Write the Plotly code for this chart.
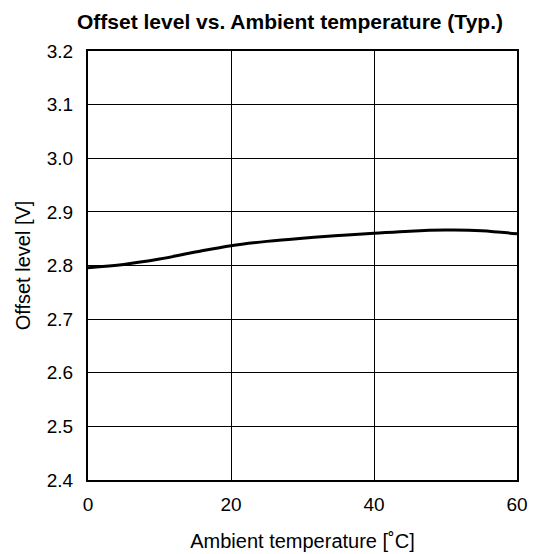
import plotly.graph_objects as go

temperature = [0, 5, 10, 15, 20, 25, 30, 35, 40, 45, 50, 55, 60]
offset_level = [2.796, 2.802, 2.812, 2.825, 2.837, 2.845, 2.851, 2.856, 2.860, 2.864, 2.866, 2.865, 2.859]
x_ticks = [0, 20, 40, 60]
y_ticks = [2.4, 2.5, 2.6, 2.7, 2.8, 2.9, 3.0, 3.1, 3.2]

font = "Liberation Sans, Arial, sans-serif"

W, H = 529, 546

fig = go.Figure()
fig.add_trace(go.Scatter(
    x=temperature, y=offset_level, mode="lines",
    line=dict(color="black", width=3, shape="spline", smoothing=1.0),
    showlegend=False, hoverinfo="skip"))

fig.update_layout(
    width=W, height=H,
    margin=dict(l=80, r=20, t=43, b=74),
    paper_bgcolor="white", plot_bgcolor="white",
    font=dict(family=font, color="black", size=19),
    title=dict(text="<b>Offset level vs. Ambient temperature (Typ.)</b>",
               font=dict(size=21, family=font, color="black"),
               x=282 / W, xanchor="center", y=1 - 14 / H, yanchor="middle"),
)
fig.update_xaxes(
    range=[0, 60], tickvals=x_ticks, ticktext=[str(v) for v in x_ticks],
    showgrid=True, gridcolor="black", gridwidth=1,
    showline=True, linecolor="black", linewidth=2, mirror=True,
    ticks="", zeroline=False, ticklabelstandoff=6, automargin=False,
    tickfont=dict(size=19),
    title=dict(text="Ambient temperature [˚C]", font=dict(size=20), standoff=20),
)
fig.update_yaxes(
    range=[2.4, 3.2], tickvals=y_ticks, ticktext=[f"{v:.1f}" for v in y_ticks],
    showgrid=True, gridcolor="black", gridwidth=1,
    showline=True, linecolor="black", linewidth=2, mirror=True,
    ticks="", zeroline=False, ticklabelstandoff=9, automargin=False,
    tickfont=dict(size=19),
    title=dict(text="Offset level [V]", font=dict(size=20), standoff=11),
)

fig.write_html("out.html")
